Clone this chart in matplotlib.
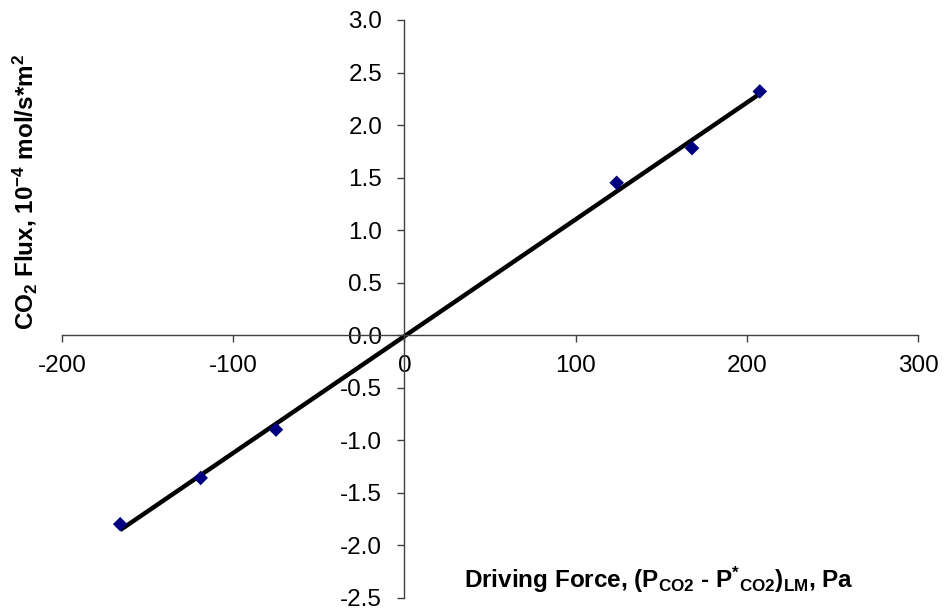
import numpy as np
import matplotlib
matplotlib.use("Agg")
import matplotlib.pyplot as plt

plt.rcParams["font.family"] = ["Liberation Sans", "DejaVu Sans"]
plt.rcParams["mathtext.fontset"] = "custom"
plt.rcParams["mathtext.rm"] = "Liberation Sans"
plt.rcParams["mathtext.bf"] = "Liberation Sans:bold"
plt.rcParams["mathtext.it"] = "Liberation Sans:italic"
plt.rcParams["mathtext.default"] = "bf"

# Measured CO2 flux vs. log-mean partial pressure driving force
driving_force = [-166, -119, -75, 124, 168, 207.6]   # Pa
co2_flux = [-1.80, -1.36, -0.90, 1.45, 1.78, 2.32]   # 1e-4 mol/s*m^2

x_ticks = [-200, -100, 0, 100, 200, 300]
y_ticks = [-2.5, -2.0, -1.5, -1.0, -0.5, 0.0, 0.5, 1.0, 1.5, 2.0, 2.5, 3.0]

fig = plt.figure(figsize=(9.45, 6.12), dpi=100)
ax = fig.add_axes([62 / 945, 1 - 597.7 / 612, 856 / 945, 577.7 / 612])

# Linear trendline over the data range
slope, intercept = np.polyfit(driving_force, co2_flux, 1)
xf = np.array([min(driving_force), max(driving_force)])
ax.plot(xf, slope * xf + intercept, color="black", lw=3.2, solid_capstyle="butt", zorder=2)

ax.scatter(driving_force, co2_flux, marker="D", s=55, color="#000080",
           edgecolors="none", zorder=3)

ax.set_xlim(-200, 300)
ax.set_ylim(-2.5, 3.0)
ax.set_xticks(x_ticks)
ax.set_xticklabels([f"{v:d}" for v in x_ticks])
ax.set_yticks(y_ticks)
ax.set_yticklabels([f"{v:.1f}" for v in y_ticks])

for side in ("top", "right"):
    ax.spines[side].set_visible(False)
ax.spines["left"].set_position(("data", 0))
ax.spines["bottom"].set_position(("data", 0))
for side in ("left", "bottom"):
    ax.spines[side].set_color("#404040")
    ax.spines[side].set_linewidth(1.0)

ax.tick_params(axis="both", direction="out", length=5, width=1.0,
               color="#404040", labelsize=17.5)
ax.tick_params(axis="y", pad=11)
ax.tick_params(axis="x", pad=9)

fig.text(25 / 945, 1 - 192 / 612, r"CO$_2$ Flux, 10$^{-4}$ mol/s*m$^2$",
         rotation=90, ha="center", va="center", fontsize=17.5, fontweight="bold")
fig.text(659 / 945, 1 - 580 / 612,
         r"Driving Force, (P$_{CO2}$ - P$^{*}$$_{CO2}$)$_{LM}$, Pa",
         ha="center", va="center", fontsize=17.5, fontweight="bold")

fig.savefig("out.png", dpi=100)
